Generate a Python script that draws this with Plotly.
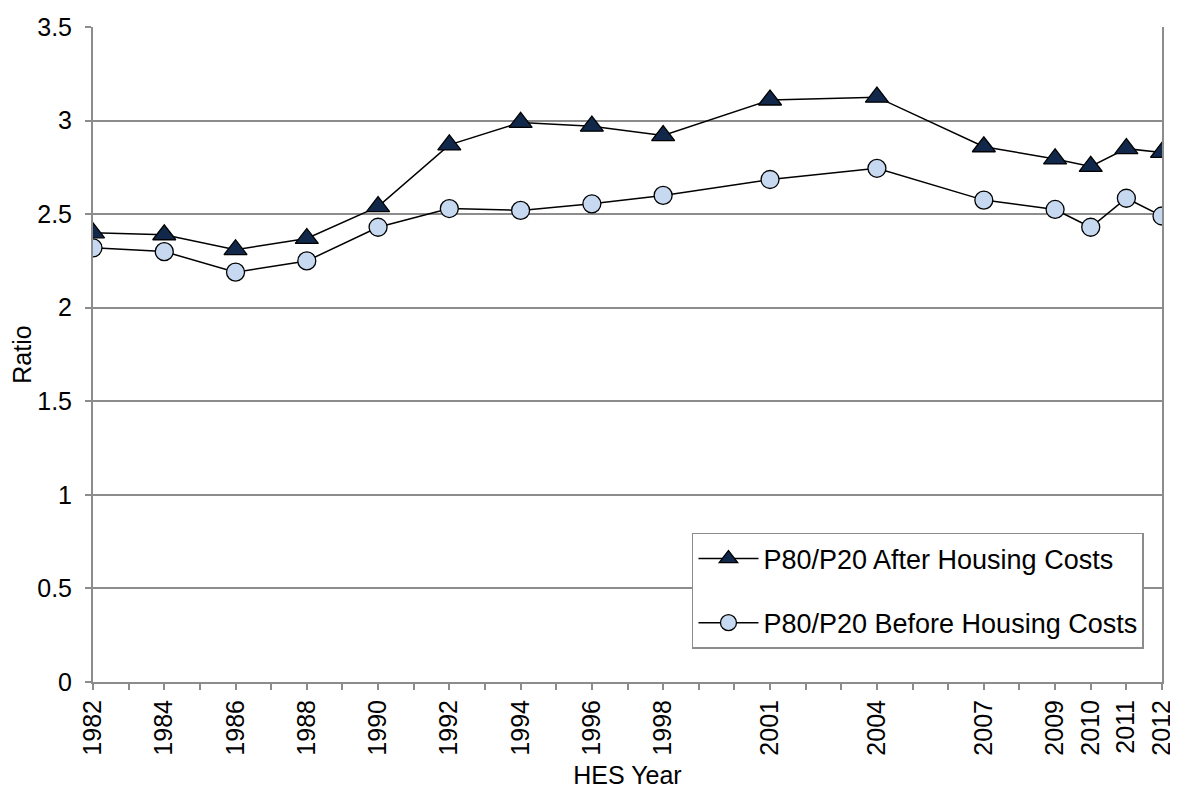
import plotly.graph_objects as go

years = [1982, 1984, 1986, 1988, 1990, 1992, 1994, 1996, 1998, 2001, 2004, 2007, 2009, 2010, 2011, 2012]
after_hc = [2.40, 2.39, 2.31, 2.37, 2.54, 2.87, 2.99, 2.97, 2.92, 3.11, 3.125, 2.86, 2.795, 2.755, 2.85, 2.83]
before_hc = [2.32, 2.30, 2.19, 2.25, 2.43, 2.53, 2.52, 2.555, 2.60, 2.685, 2.745, 2.575, 2.525, 2.43, 2.585, 2.49]
tick_labels = [str(y) for y in years]

FONT = "Liberation Sans, Arial, sans-serif"
GRID = "#8c8c8c"
FS = 25

fig = go.Figure()
fig.add_trace(go.Scatter(
    x=years, y=after_hc, name="P80/P20 After Housing Costs", mode="lines+markers",
    line=dict(color="black", width=1.5),
    marker=dict(symbol="triangle-up", size=20, color="#11284a", line=dict(color="black", width=1.3)),
    legendgroup="a",
))
fig.add_trace(go.Scatter(
    x=years, y=before_hc, name="P80/P20 Before Housing Costs", mode="lines+markers",
    line=dict(color="black", width=1.5),
    marker=dict(symbol="circle", size=18, color="#c6d9f1", line=dict(color="black", width=1.3)),
    legendgroup="b",
))

# page body has an 8px margin; compensate so the plot area lands where the reference has it
fig.update_layout(
    width=1170, height=784,
    margin=dict(l=85, r=16, t=19, b=110),
    paper_bgcolor="white", plot_bgcolor="white",
    font=dict(family=FONT, size=FS, color="black"),
    showlegend=True,
    legend=dict(
        x=0.5603, y=0.2275, xanchor="left", yanchor="top",
        bgcolor="white", bordercolor=GRID, borderwidth=1.5,
        font=dict(size=27), tracegroupgap=26, traceorder="grouped",
        itemwidth=60,
    ),
    xaxis=dict(
        range=[1982, 2012], tickmode="array", tickvals=years, ticktext=tick_labels,
        tickangle=-90, ticks="outside", ticklen=6, tickcolor=GRID, tickwidth=1.5,
        minor=dict(dtick=1, tick0=1982, ticks="outside", ticklen=6, tickcolor=GRID, tickwidth=1.5, showgrid=False),
        showgrid=False, zeroline=False, showline=True, linecolor=GRID, linewidth=2,
        title=dict(text="HES Year", font=dict(size=FS), standoff=12),
        tickfont=dict(size=FS), automargin=False,
    ),
    yaxis=dict(
        range=[0, 3.5], dtick=0.5, tickformat="~g",
        ticks="outside", ticklen=6, tickcolor=GRID, tickwidth=1.5,
        showgrid=True, gridcolor=GRID, gridwidth=2, zeroline=False,
        showline=True, linecolor=GRID, linewidth=2, mirror=True,
        title=dict(text="Ratio", font=dict(size=FS), standoff=6),
        tickfont=dict(size=FS), ticklabelstandoff=8, automargin=False,
    ),
)

fig.write_html("out.html")
